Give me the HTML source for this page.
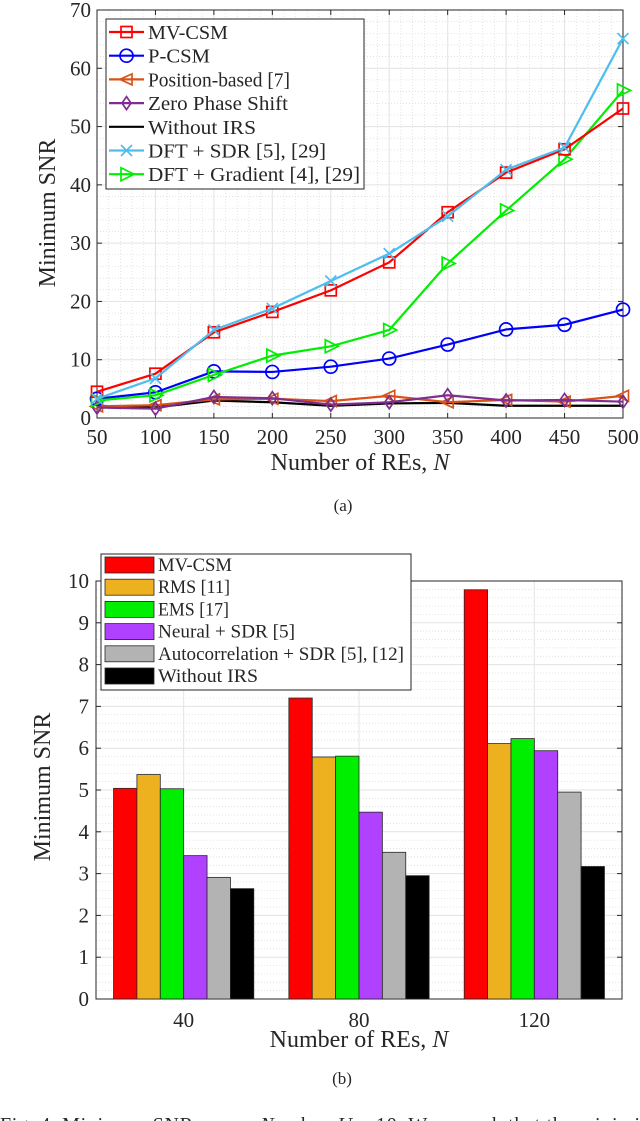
<!DOCTYPE html>
<html><head><meta charset="utf-8">
<style>
html,body{margin:0;padding:0;background:#fff;}
body{width:640px;height:1121px;overflow:hidden;position:relative;font-family:"Liberation Serif",serif;}
svg{position:absolute;left:0;top:0;}
svg text{font-family:"Liberation Serif",serif;fill:#262626;}
</style></head>
<body>
<svg id="chart" width="640" height="1121" viewBox="0 0 640 1121" xmlns="http://www.w3.org/2000/svg"></svg>
<script>
// ---- Chart (a) data ----
const xCats = [50,100,150,200,250,300,350,400,450,500];
const xTicksA = [50,100,150,200,250,300,350,400,450,500];
const yTicksA = [0,10,20,30,40,50,60,70];
const seriesNames = ["MV-CSM","P-CSM","Position-based [7]","Zero Phase Shift","Without IRS","DFT + SDR [5], [29]","DFT + Gradient [4], [29]"];
const mvcsm = [4.5,7.6,14.7,18.2,21.9,26.7,35.3,42.1,46.1,53.1];
const pcsm = [3.3,4.4,8.0,7.9,8.8,10.2,12.6,15.2,16.0,18.6];
const positionBased = [2.0,2.2,3.2,3.3,2.9,3.8,2.7,3.1,2.8,3.8];
const zeroPhase = [1.8,1.6,3.6,3.4,2.3,2.7,3.9,3.0,3.1,2.8];
const withoutIrs = [2.1,1.8,3.0,2.7,2.1,2.5,2.6,2.1,2.1,2.1];
const dftSdr = [3.3,6.8,15.1,18.8,23.5,28.2,34.6,42.6,46.4,65.1];
const dftGrad = [3.0,3.9,7.4,10.7,12.3,15.1,26.5,35.6,44.4,56.2];
// ---- Chart (b) data ----
const barGroups = ["40","80","120"];
const barNames = ["MV-CSM","RMS [11]","EMS [17]","Neural + SDR [5]","Autocorrelation + SDR [5], [12]","Without IRS"];
const barMv = [5.04,7.2,9.79];
const barRms = [5.37,5.79,6.11];
const barEms = [5.03,5.81,6.23];
const barNeural = [3.43,4.47,5.94];
const barAuto = [2.91,3.51,4.95];
const barWithout = [2.64,2.95,3.17];
const yTicksB = [0,1,2,3,4,5,6,7,8,9,10];

const NS="http://www.w3.org/2000/svg";
const svg=document.getElementById('chart');
function mk(tag,attrs,parent){const e=document.createElementNS(NS,tag);for(const k in attrs)e.setAttribute(k,attrs[k]);(parent||svg).appendChild(e);return e;}
function txt(s,attrs,parent){const e=mk('text',attrs,parent);e.textContent=s;return e;}

// ===== Chart A =====
const A={l:97,r:623,t:10,b:418,x0:50,x1:500,y0:0,y1:70};
const xA=v=>A.l+(v-A.x0)/(A.x1-A.x0)*(A.r-A.l);
const yA=v=>A.b-(v-A.y0)/(A.y1-A.y0)*(A.b-A.t);
const gA=mk('g',{});


const gridA=mk('g',{},gA);


for(let v=A.x0;v<=A.x1;v+=10){if(v%50)mk('line',{x1:xA(v),x2:xA(v),y1:A.t,y2:A.b,stroke:'#d8d8d8','stroke-width':0.7,'stroke-dasharray':'1,2'},gridA);}
for(let v=0;v<=70;v+=2){if(v%10)mk('line',{x1:A.l,x2:A.r,y1:yA(v),y2:yA(v),stroke:'#d8d8d8','stroke-width':0.7,'stroke-dasharray':'1,2'},gridA);}
xTicksA.forEach(v=>mk('line',{x1:xA(v),x2:xA(v),y1:A.t,y2:A.b,stroke:'#e3e3e3','stroke-width':1},gridA));
yTicksA.forEach(v=>mk('line',{x1:A.l,x2:A.r,y1:yA(v),y2:yA(v),stroke:'#e3e3e3','stroke-width':1},gridA));
mk('rect',{x:A.l,y:A.t,width:A.r-A.l,height:A.b-A.t,fill:'none',stroke:'#262626','stroke-width':1},gA);
xTicksA.forEach(v=>{
  mk('line',{x1:xA(v),x2:xA(v),y1:A.b,y2:A.b-5,stroke:'#262626'},gA);
  mk('line',{x1:xA(v),x2:xA(v),y1:A.t,y2:A.t+5,stroke:'#262626'},gA);
  const t=txt(String(v),{x:xA(v),y:A.b+26,'text-anchor':'middle','font-size':21},gA);
  
  
});
yTicksA.forEach(v=>{
  mk('line',{x1:A.l,x2:A.l+5,y1:yA(v),y2:yA(v),stroke:'#262626'},gA);
  mk('line',{x1:A.r,x2:A.r-5,y1:yA(v),y2:yA(v),stroke:'#262626'},gA);
  const t=txt(String(v),{x:A.l-6,y:yA(v)+7,'text-anchor':'end','font-size':21},gA);
  
  
});
const yta=txt('Minimum SNR',{x:0,y:0,'text-anchor':'middle','font-size':24,transform:'translate(55,213) rotate(-90)'},gA);


const xta=txt('',{x:360,y:470,'text-anchor':'middle','font-size':24},gA);
xta.innerHTML='Number of REs, <tspan font-style="italic">N</tspan>';


const capA=txt('(a)',{x:343,y:511,'text-anchor':'middle','font-size':17,fill:'#000'},svg);



function marker(type,cx,cy,color,parent){
  const s=5.5;
  if(type==='square')return mk('rect',{x:cx-s,y:cy-s,width:2*s,height:2*s,fill:'none',stroke:color,'stroke-width':1.7},parent);
  if(type==='circle')return mk('circle',{cx:cx,cy:cy,r:s+1,fill:'none',stroke:color,'stroke-width':1.7},parent);
  if(type==='left')return mk('polygon',{points:`${cx-s-1},${cy} ${cx+s},${cy-s} ${cx+s},${cy+s}`,fill:'none',stroke:color,'stroke-width':1.7},parent);
  if(type==='right')return mk('polygon',{points:`${cx+s+2},${cy} ${cx-s},${cy-s-1} ${cx-s},${cy+s+1}`,fill:'none',stroke:color,'stroke-width':1.7},parent);
  if(type==='diamond')return mk('polygon',{points:`${cx},${cy-s-1} ${cx+s-1},${cy} ${cx},${cy+s+1} ${cx-s+1},${cy}`,fill:'none',stroke:color,'stroke-width':1.7},parent);
  if(type==='x'){const g=mk('g',{},parent);mk('path',{d:`M${cx-s},${cy-s}L${cx+s},${cy+s}M${cx-s},${cy+s}L${cx+s},${cy-s}`,stroke:color,'stroke-width':1.7},g);return g;}
  return null;
}
const seriesA=[
 {name:seriesNames[4],vals:withoutIrs,color:'#000000',m:null,key:'without-irs'},
 {name:seriesNames[2],vals:positionBased,color:'#d95319',m:'left',key:'position-based'},
 {name:seriesNames[3],vals:zeroPhase,color:'#7e2f8e',m:'diamond',key:'zero-phase-shift'},
 {name:seriesNames[1],vals:pcsm,color:'#0000ff',m:'circle',key:'p-csm'},
 {name:seriesNames[6],vals:dftGrad,color:'#00ee00',m:'right',key:'dft-gradient'},
 {name:seriesNames[0],vals:mvcsm,color:'#ff0000',m:'square',key:'mv-csm'},
 {name:seriesNames[5],vals:dftSdr,color:'#4dbeee',m:'x',key:'dft-sdr'}
];
seriesA.forEach(s=>{
  const g=mk('g',{},gA);
  
  
  const pts=s.vals.map((v,i)=>xA(xCats[i])+','+yA(v)).join(' ');
  const pl=mk('polyline',{points:pts,fill:'none',stroke:s.color,'stroke-width':2.2},g);
  
  
  if(s.m)s.vals.forEach((v,i)=>{const m=marker(s.m,xA(xCats[i]),yA(v),s.color,g);
    
    });
});
// legend A
const legA=mk('g',{},gA);


mk('rect',{x:106,y:19,width:258,height:170,fill:'#fff',stroke:'#262626','stroke-width':1},legA);
const legMeta=[['#ff0000','square'],['#0000ff','circle'],['#d95319','left'],['#7e2f8e','diamond'],['#000000',null],['#4dbeee','x'],['#00ee00','right']];
const legWA=[80,62,142,140,108,178,212];
seriesNames.forEach((n,i)=>{
  const y=32+i*23.7;
  const g=mk('g',{},legA);
  
  
  mk('line',{x1:109,x2:144,y1:y,y2:y,stroke:legMeta[i][0],'stroke-width':2.2},g);
  if(legMeta[i][1])marker(legMeta[i][1],126.5,y,legMeta[i][0],g);
  txt(n,{x:148,y:y+7,'font-size':20,fill:'#000',textLength:legWA[i],lengthAdjust:'spacingAndGlyphs'},g);
});

// ===== Chart B =====
const B={l:96,r:622,t:581,b:999,y0:0,y1:10};
const yB=v=>B.b-(v-B.y0)/(B.y1-B.y0)*(B.b-B.t);
const groupW=(B.r-B.l)/3;
const xB=i=>B.l+groupW*(i+0.5);
const gB=mk('g',{});


const gridB=mk('g',{},gB);


for(let v=0;v<=10.001;v+=0.2){if(Math.abs(v-Math.round(v))>0.01)mk('line',{x1:B.l,x2:B.r,y1:yB(v),y2:yB(v),stroke:'#d8d8d8','stroke-width':0.7,'stroke-dasharray':'1,2'},gridB);}
yTicksB.forEach(v=>mk('line',{x1:B.l,x2:B.r,y1:yB(v),y2:yB(v),stroke:'#e3e3e3'},gridB));
barGroups.forEach((c,i)=>mk('line',{x1:xB(i),x2:xB(i),y1:B.t,y2:B.b,stroke:'#e3e3e3'},gridB));
mk('rect',{x:B.l,y:B.t,width:B.r-B.l,height:B.b-B.t,fill:'none',stroke:'#262626'},gB);
yTicksB.forEach(v=>{
  mk('line',{x1:B.l,x2:B.l+5,y1:yB(v),y2:yB(v),stroke:'#262626'},gB);
  mk('line',{x1:B.r,x2:B.r-5,y1:yB(v),y2:yB(v),stroke:'#262626'},gB);
  const t=txt(String(v),{x:B.l-7,y:yB(v)+7,'text-anchor':'end','font-size':21},gB);
  
  
});
barGroups.forEach((c,i)=>{
  mk('line',{x1:xB(i),x2:xB(i),y1:B.b,y2:B.b-5,stroke:'#262626'},gB);
  const t=txt(c,{x:xB(i),y:1027,'text-anchor':'middle','font-size':21},gB);
  
  
});
const barSeries=[barMv,barRms,barEms,barNeural,barAuto,barWithout];
const barColors=['#ff0000','#edb120','#00ee00','#b041ff','#b3b3b3','#000000'];
const barKeys=['mv-csm','rms','ems','neural-sdr','autocorrelation-sdr','without-irs'];
const barW=groupW*0.8/6;
barSeries.forEach((vals,s)=>{
  const g=mk('g',{},gB);
  
  
  vals.forEach((v,i)=>{
    const x=xB(i)-groupW*0.4+s*barW;
    const r=mk('rect',{x:x,y:yB(v),width:barW,height:yB(0)-yB(v),fill:barColors[s],stroke:'#262626','stroke-width':0.8},g);
    
    
  });
});
const ytb=txt('Minimum SNR',{x:0,y:0,'text-anchor':'middle','font-size':24,transform:'translate(50,787) rotate(-90)'},gB);


const xtb=txt('',{x:359,y:1047,'text-anchor':'middle','font-size':24},gB);
xtb.innerHTML='Number of REs, <tspan font-style="italic">N</tspan>';


// legend B
const legB=mk('g',{},gB);


mk('rect',{x:101,y:554,width:310,height:136,fill:'#fff',stroke:'#262626'},legB);
const legWB=[74,72,71,137,246,100];
barNames.forEach((n,i)=>{
  const y=565+i*22.2;
  const g=mk('g',{},legB);
  
  
  mk('rect',{x:105,y:y-8,width:49,height:16,fill:barColors[i],stroke:'#262626','stroke-width':0.8},g);
  txt(n,{x:158,y:y+6,'font-size':19,fill:'#000',textLength:legWB[i],lengthAdjust:'spacingAndGlyphs'},g);
});
const capB=txt('(b)',{x:342,y:1084,'text-anchor':'middle','font-size':17,fill:'#000'},svg);


const fig=txt('',{x:0,y:1131,'font-size':20,fill:'#000',textLength:640,lengthAdjust:'spacing'},svg);
fig.innerHTML='Fig. 4.  Minimum SNR versus <tspan font-style="italic">N</tspan>, when <tspan font-style="italic">U</tspan> = 10. We remark that the minimi';


</script>
</body></html>
